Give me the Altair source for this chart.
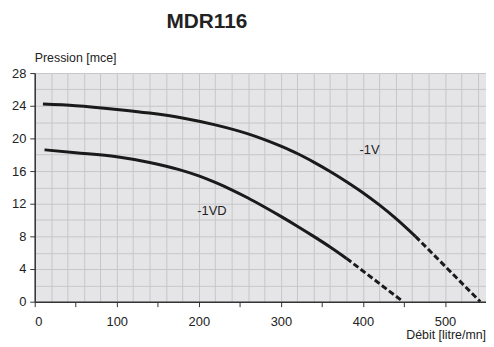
import altair as alt
import pandas as pd

# Solid curve data
v_x = [10, 50, 100, 140, 180, 220, 260, 280, 300, 320, 340, 360, 380, 400, 420, 440, 464]
v_y = [24.2, 24.0, 23.55, 23.1, 22.5, 21.65, 20.55, 19.85, 19.05, 18.15, 17.1, 15.95, 14.7,
       13.35, 11.85, 10.2, 8.0]
vd_x = [12, 50, 100, 140, 175, 200, 220, 240, 260, 280, 300, 320, 340, 360, 380]
vd_y = [18.6, 18.25, 17.75, 17.05, 16.2, 15.4, 14.6, 13.7, 12.7, 11.6, 10.45, 9.25, 8.0,
        6.7, 5.3]
# Dashed extensions
v_dash_x = [464, 543]
v_dash_y = [8.0, 0.0]
vd_dash_x = [380, 449]
vd_dash_y = [5.3, 0.0]
# Curve labels
label_text = ["-1V", "-1VD"]
label_x = [408, 216]
label_y = [18.6, 11.1]

x_ticks = list(range(0, 551, 50))
x_grid = list(range(0, 551, 20))
y_ticks = list(range(0, 29, 4))
y_grid = list(range(0, 29, 2))

FONT = "Liberation Sans"

solid = pd.DataFrame(
    {"x": v_x + vd_x, "y": v_y + vd_y, "c": ["1V"] * len(v_x) + ["1VD"] * len(vd_x)}
)
dashed = pd.DataFrame(
    {"x": v_dash_x + vd_dash_x, "y": v_dash_y + vd_dash_y,
     "c": ["1V"] * len(v_dash_x) + ["1VD"] * len(vd_dash_x)}
)
labels = pd.DataFrame({"t": label_text, "x": label_x, "y": label_y})

xs = alt.Scale(domain=[0, 550], nice=False, zero=False)
ys = alt.Scale(domain=[0, 28], nice=False)

grid_layer = alt.Chart(solid).mark_line(
    stroke="#1a1a1a", strokeWidth=3, interpolate="monotone"
).encode(
    x=alt.X("x:Q", scale=xs, axis=alt.Axis(values=x_grid, grid=True, labels=False,
            ticks=False, domain=False, title=None, orient="top",
            gridColor="#c6c6c8", gridWidth=1)),
    y=alt.Y("y:Q", scale=ys, axis=alt.Axis(values=y_grid, grid=True, labels=False,
            ticks=False, domain=False, title=None, orient="right",
            gridColor="#c6c6c8", gridWidth=1)),
    detail="c:N",
)

dash_layer = alt.Chart(dashed).mark_line(
    stroke="#1a1a1a", strokeWidth=3, strokeDash=[6, 3]
).encode(
    x=alt.X("x:Q", scale=xs, axis=alt.Axis(values=x_ticks, grid=False, orient="bottom",
            labelExpr="datum.value % 100 == 0 ? datum.label : ''",
            tickSize=5, tickColor="#333", domainColor="#333", domainWidth=1.5,
            labelPadding=9, labelFontSize=13, labelFont=FONT, labelColor="#222",
            title=None, zindex=1)),
    y=alt.Y("y:Q", scale=ys, axis=alt.Axis(values=y_ticks, grid=False, orient="left",
            tickSize=5, tickColor="#333", domainColor="#333", domainWidth=1.5,
            labelPadding=4, labelFontSize=13, labelFont=FONT, labelColor="#222",
            title=None, zindex=1)),
    detail="c:N",
)

text_layer = alt.Chart(labels).mark_text(
    font=FONT, fontSize=13, color="#222"
).encode(x=alt.X("x:Q", scale=xs, axis=None), y=alt.Y("y:Q", scale=ys, axis=None),
         text="t:N")

title_df = pd.DataFrame({"t": ["MDR116"]})
title_layer = alt.Chart(title_df).mark_text(
    font=FONT, fontSize=21, fontWeight="bold", color="#222"
).encode(x=alt.value(174), y=alt.value(-52), text="t:N")

ytitle_df = pd.DataFrame({"t": ["Pression [mce]"]})
ytitle_layer = alt.Chart(ytitle_df).mark_text(
    font=FONT, fontSize=12.5, color="#222", align="left"
).encode(x=alt.value(0), y=alt.value(-15), text="t:N")

xtitle_df = pd.DataFrame({"t": ["Débit [litre/mn]"]})
xtitle_layer = alt.Chart(xtitle_df).mark_text(
    font=FONT, fontSize=12.5, color="#222", align="right"
).encode(x=alt.value(456), y=alt.value(265), text="t:N")

chart = alt.layer(
    grid_layer, dash_layer, text_layer, title_layer, ytitle_layer, xtitle_layer
).resolve_axis(x="independent", y="independent").properties(
    width=456, height=231,
    autosize=alt.AutoSizeParams(type="none"),
    padding={"left": 27, "top": 64, "right": 0, "bottom": 42},
    background="white",
).configure_view(fill="#e5e5e7", stroke=None)

chart.save("out.html", embed_options={"renderer": "svg", "actions": False})
